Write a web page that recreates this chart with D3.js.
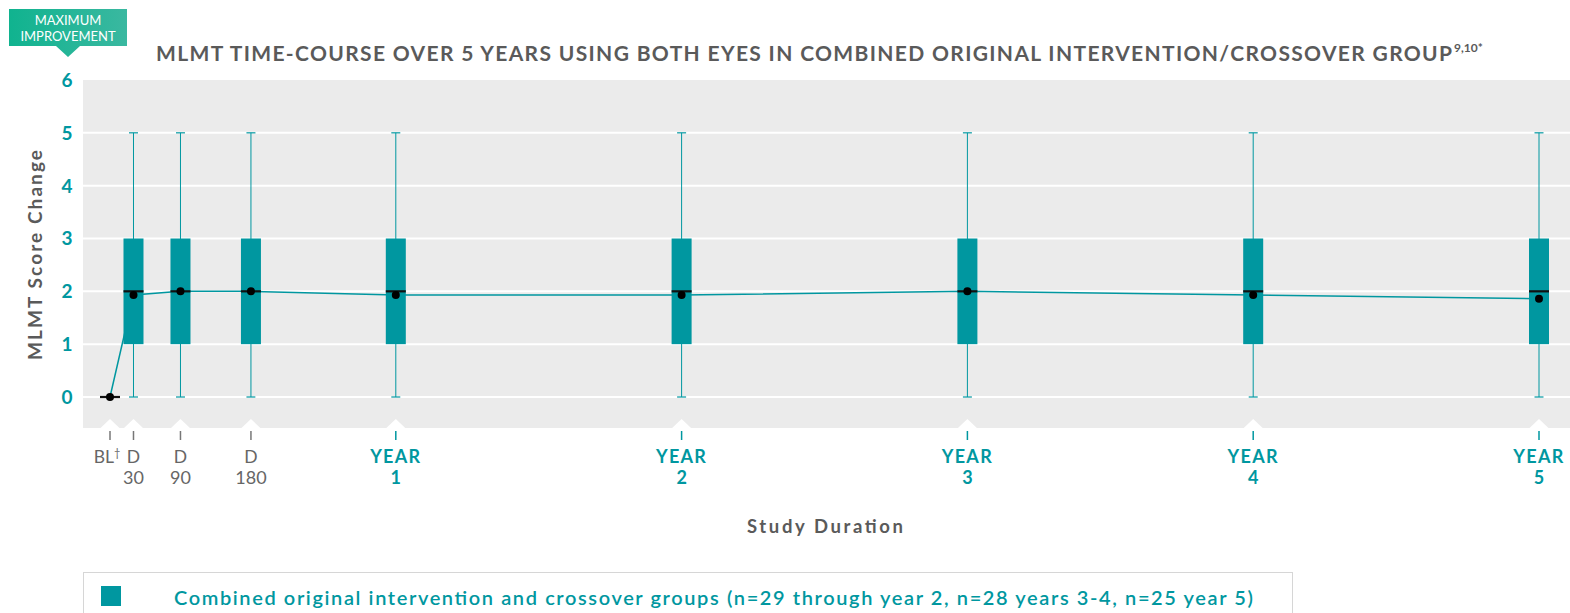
<!DOCTYPE html>
<html>
<head>
<meta charset="utf-8">
<script src="https://cdn.jsdelivr.net/npm/d3@7"></script>
<style>
  body { margin: 0; background: #fff; }
  svg { display: block; font-family: Lato, "Open Sans", sans-serif; }
</style>
</head>
<body>
<div id="chart"></div>
<script>
// time points (days from baseline) and their labels
const days = [0, 30, 90, 180, 365, 730, 1095, 1460, 1825];
const labelTop = ["BL", "D", "D", "D", "YEAR", "YEAR", "YEAR", "YEAR", "YEAR"];
const labelBottom = ["", "30", "90", "180", "1", "2", "3", "4", "5"];
const isYear = [false, false, false, false, true, true, true, true, true];

// box plot stats per time point (BL has no box)
const whiskerLow = [null, 0, 0, 0, 0, 0, 0, 0, 0];
const q1 = [null, 1, 1, 1, 1, 1, 1, 1, 1];
const medians = [0, 2, 2, 2, 2, 2, 2, 2, 2];
const q3 = [null, 3, 3, 3, 3, 3, 3, 3, 3];
const whiskerHigh = [null, 5, 5, 5, 5, 5, 5, 5, 5];
const means = [0, 1.93, 2.0, 2.0, 1.93, 1.93, 2.0, 1.93, 1.86];

const yTicks = [0, 1, 2, 3, 4, 5, 6];

const W = 1570, H = 613;
const teal = "#0097a0";
const grey = "#5a5a5a";

const svg = d3.select("#chart").append("svg")
    .attr("width", W)
    .attr("height", H);

const plotLeft = 83, plotRight = 1570, plotTop = 80, plotBottom = 428;

const x = d3.scaleLinear().domain([0, 1825]).range([110, 1539]);
const y = d3.scaleLinear().domain([0, 6]).range([397, 80]);

// background
svg.append("rect")
    .attr("x", plotLeft).attr("y", plotTop)
    .attr("width", plotRight - plotLeft).attr("height", plotBottom - plotTop)
    .attr("fill", "#ebebeb");

// gridlines
svg.selectAll(".grid")
    .data(yTicks.filter(d => d < 6))
    .enter().append("line")
    .attr("x1", plotLeft).attr("x2", plotRight)
    .attr("y1", d => y(d)).attr("y2", d => y(d))
    .attr("stroke", "#fff").attr("stroke-width", 2);

// y tick labels
svg.selectAll(".ylab")
    .data(yTicks)
    .enter().append("text")
    .attr("x", 67).attr("y", d => y(d))
    .attr("dy", "0.36em")
    .attr("text-anchor", "middle")
    .attr("fill", teal)
    .attr("font-size", 19).attr("font-weight", 700)
    .text(d => d);

// notches at bottom of plot
svg.selectAll(".notch")
    .data(days)
    .enter().append("path")
    .attr("d", d => `M${x(d) - 10},${plotBottom + 0.5} L${x(d)},${plotBottom - 9} L${x(d) + 10},${plotBottom + 0.5} Z`)
    .attr("fill", "#fff");

// tick marks
svg.selectAll(".tick")
    .data(days)
    .enter().append("line")
    .attr("x1", d => x(d)).attr("x2", d => x(d))
    .attr("y1", 431).attr("y2", 440)
    .attr("stroke", (d, i) => isYear[i] ? teal : "#777")
    .attr("stroke-width", 1.5);

// x labels
const xl = svg.selectAll(".xlab")
    .data(days)
    .enter().append("g")
    .attr("transform", d => `translate(${x(d)},0)`);
xl.append("text")
    .attr("y", 463)
    .attr("text-anchor", "middle")
    .attr("font-size", (d, i) => isYear[i] ? 18 : 17.5)
    .attr("letter-spacing", (d, i) => isYear[i] ? 1.3 : 0)
    .attr("font-weight", (d, i) => isYear[i] ? 700 : 400)
    .attr("fill", (d, i) => isYear[i] ? teal : "#666")
    .each(function (d, i) {
        const t = d3.select(this);
        t.append("tspan").text(labelTop[i]);
        if (i === 0) t.append("tspan").attr("font-size", 11).attr("dy", -6).text("†");
    })
    .attr("dx", (d, i) => i === 0 ? -3 : 0);
xl.append("text")
    .attr("y", 484)
    .attr("text-anchor", "middle")
    .attr("font-size", 18)
    .attr("font-weight", (d, i) => isYear[i] ? 700 : 400)
    .attr("fill", (d, i) => isYear[i] ? teal : "#666")
    .text((d, i) => labelBottom[i]);

// mean line (drawn behind the boxes)
const line = d3.line().x(d => x(d[0])).y(d => y(d[1]));
svg.append("path")
    .datum(days.map((d, i) => [d, means[i]]))
    .attr("d", line)
    .attr("fill", "none")
    .attr("stroke", teal)
    .attr("stroke-width", 1.5);

// boxes
const boxW = 20, capW = 9;
const boxes = svg.selectAll(".box")
    .data(days.map((d, i) => i).filter(i => q1[i] !== null))
    .enter().append("g");
boxes.append("line")
    .attr("x1", i => x(days[i])).attr("x2", i => x(days[i]))
    .attr("y1", i => y(whiskerLow[i])).attr("y2", i => y(whiskerHigh[i]))
    .attr("stroke", teal).attr("stroke-width", 1);
boxes.selectAll(".cap")
    .data(i => [[i, whiskerLow[i]], [i, whiskerHigh[i]]])
    .enter().append("line")
    .attr("x1", d => x(days[d[0]]) - capW / 2).attr("x2", d => x(days[d[0]]) + capW / 2)
    .attr("y1", d => y(d[1])).attr("y2", d => y(d[1]))
    .attr("stroke", teal).attr("stroke-width", 1.2);
boxes.append("rect")
    .attr("x", i => x(days[i]) - boxW / 2)
    .attr("y", i => y(q3[i]))
    .attr("width", boxW)
    .attr("height", i => y(q1[i]) - y(q3[i]))
    .attr("fill", teal);

// medians
svg.selectAll(".median")
    .data(days)
    .enter().append("line")
    .attr("x1", d => x(d) - boxW / 2).attr("x2", d => x(d) + boxW / 2)
    .attr("y1", (d, i) => y(medians[i])).attr("y2", (d, i) => y(medians[i]))
    .attr("stroke", "#111").attr("stroke-width", 2.2);

// mean dots
svg.selectAll(".mean")
    .data(days)
    .enter().append("circle")
    .attr("cx", d => x(d))
    .attr("cy", (d, i) => y(means[i]))
    .attr("r", 4)
    .attr("fill", "#000");

// title (stretched to the width of the original lettering)
svg.append("text")
    .attr("x", 156).attr("y", 61)
    .attr("font-size", 21).attr("font-weight", 700)
    .attr("fill", grey)
    .attr("textLength", 1296).attr("lengthAdjust", "spacing")
    .text("MLMT TIME-COURSE OVER 5 YEARS USING BOTH EYES IN COMBINED ORIGINAL INTERVENTION/CROSSOVER GROUP");
svg.append("text")
    .attr("x", 1454).attr("y", 52)
    .attr("font-size", 12).attr("font-weight", 700)
    .attr("fill", grey)
    .text("9,10*");

// badge
const grad = svg.append("defs").append("linearGradient").attr("id", "badge");
grad.append("stop").attr("offset", "0%").attr("stop-color", "#10b38f");
grad.append("stop").attr("offset", "100%").attr("stop-color", "#3ab8a0");
svg.append("path")
    .attr("d", "M9,9 H127 V46 H80 L68,57 L56,46 H9 Z")
    .attr("fill", "url(#badge)");
svg.append("text").attr("x", 68).attr("y", 25)
    .attr("text-anchor", "middle").attr("font-size", 13).attr("fill", "#fff")
    .text("MAXIMUM");
svg.append("text").attr("x", 68).attr("y", 41)
    .attr("text-anchor", "middle").attr("font-size", 13).attr("fill", "#fff")
    .text("IMPROVEMENT");

// axis titles
svg.append("text")
    .attr("transform", "translate(42,150) rotate(-90)")
    .attr("x", -210)
    .attr("font-size", 19).attr("font-weight", 700)
    .attr("fill", grey)
    .attr("textLength", 210).attr("lengthAdjust", "spacing")
    .text("MLMT Score Change");
svg.append("text")
    .attr("x", 747).attr("y", 533)
    .attr("font-size", 18.5).attr("font-weight", 700)
    .attr("fill", grey)
    .attr("textLength", 156).attr("lengthAdjust", "spacing")
    .text("Study Duration");

// legend
svg.append("rect")
    .attr("x", 83.5).attr("y", 572.5)
    .attr("width", 1209).attr("height", 60)
    .attr("fill", "#fff").attr("stroke", "#d6d6d6");
svg.append("rect")
    .attr("x", 101).attr("y", 586).attr("width", 20).attr("height", 20)
    .attr("fill", teal);
svg.append("text")
    .attr("x", 174).attr("y", 605)
    .attr("font-size", 20).attr("font-weight", 600)
    .attr("fill", teal)
    .attr("textLength", 1079).attr("lengthAdjust", "spacing")
    .text("Combined original intervention and crossover groups (n=29 through year 2, n=28 years 3-4, n=25 year 5)");
</script>
</body>
</html>
